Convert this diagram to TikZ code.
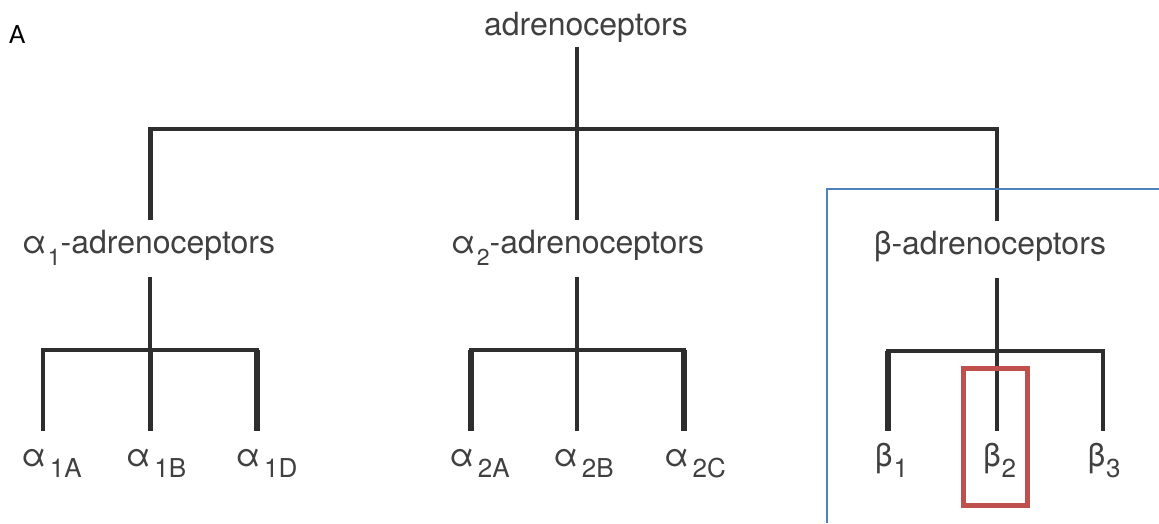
\documentclass[tikz,border=0pt]{standalone}
\usepackage{fontspec}
\setmainfont{TeX Gyre Heros}
\newfontfamily\panelfont{Carlito}
\definecolor{textgray}{HTML}{404040}
\definecolor{linegray}{HTML}{2E2E2E}
\definecolor{frameblue}{HTML}{4F81BD}
\definecolor{framered}{HTML}{C0504D}
\newcommand{\groupsub}[1]{\kern1.5pt\raisebox{-12pt}{\fontsize{23}{27}\selectfont #1}}
\newcommand{\leafsub}[2][1pt]{\kern#1\raisebox{-11pt}{\fontsize{26}{30}\selectfont #2}}
\begin{document}
\begin{tikzpicture}
[x=1pt,y=-1pt,
  namedecorate/.style={font=\fontsize{32}{38}\selectfont,text=textgray,inner xsep=0pt,anchor=base},
  rootdecorate/.style={namedecorate,text height=23pt,text depth=7pt,inner ysep=5pt},
  groupdecorate/.style={namedecorate,text height=23pt,text depth=14pt,inner ysep=10pt},
  leafdecorate/.style={namedecorate,text height=25pt,text depth=10pt,inner ysep=10pt},
  linedecorate/.style={-,line width=4pt,draw=linegray},
  bardecorate/.style={linedecorate,line cap=rect}]
\useasboundingbox (0,0) rectangle (1159,523);
\node[anchor=base west,inner sep=0pt,font=\panelfont\fontsize{28}{32}\selectfont] (panel) at (9,43) {A};
%% nodes or vertices
\node[rootdecorate] (root) at (586,35) {adrenoceptors};
\foreach \nodename/\x/\y/\txt in {a1/148.5/253/α\groupsub{1}-adrenoceptors,
    a2/577.5/253/α\groupsub{2}-adrenoceptors, b/990/254/β-adrenoceptors} {
  \node[groupdecorate] (\nodename) at (\x,\y) {\txt};
}
\foreach \nodename/\x/\txt in {a1A/51.5/α\leafsub[4pt]{1A}, a1B/156/α\leafsub[4pt]{1B}, a1D/266.5/α\leafsub[4pt]{1D},
    a2A/479.5/α\leafsub[4pt]{2A}, a2B/583.5/α\leafsub[4pt]{2B}, a2C/695/α\leafsub[4pt]{2C},
    b1/891.5/β\leafsub{1}, b2/999.5/β\leafsub{2}, b3/1104/β\leafsub{3}} {
  \node[leafdecorate] (\nodename) at (\x,466) {\txt};
}
%% joints on the bars
\foreach \jname/\x/\y in {j0/577/129, jl/150/129, jr/997/129,
    j1a/43/350, j1b/150/350, j1d/257/350,
    j2a/471/350, j2b/577/350, j2c/684/350,
    jba/888/351, jbb/997/351, jbc/1103/351} {
  \coordinate (\jname) at (\x,\y);
}
%% edges or lines
\draw[linedecorate,line width=3.5pt] (root.south -| j0) -- (a2.north -| j0);
\draw[bardecorate] (jl) -- (jr);
\draw[linedecorate,line width=5pt] (jl) -- (a1.north -| jl);
\draw[linedecorate,line width=3.5pt] (jr) -- (b.north -| jr);
\foreach \parent/\first/\mid/\last in {a1/j1a/j1b/j1d, a2/j2a/j2b/j2c, b/jba/jbb/jbc} {
  \draw[bardecorate] (\first) -- (\last);
  \draw[linedecorate,line width=3.5pt] (\parent.south -| \mid) -- (\mid);
}
\foreach \joint/\leaf/\w in {j1a/a1A/3.5, j1b/a1B/5, j1d/a1D/6,
    j2a/a2A/5.5, j2b/a2B/3.5, j2c/a2C/5.5,
    jba/b1/5.5, jbb/b2/3.5, jbc/b3/4} {
  \draw[linedecorate,line width=\w pt] (\joint) -- (\joint |- \leaf.north);
}
%% highlight frames
\draw[framered,line width=5pt] (963,368) rectangle (1027,505);
\draw[frameblue,line width=2pt] (827,523) |- (1159,189);
\end{tikzpicture}
\end{document}
